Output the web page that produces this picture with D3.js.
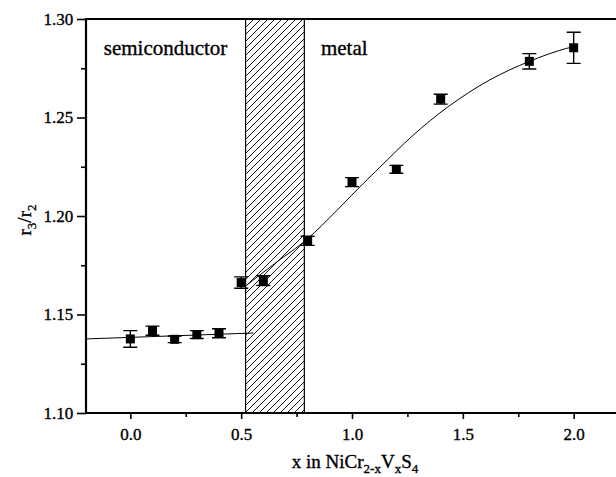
<!DOCTYPE html>
<html>
<head>
<meta charset="utf-8">
<script src="https://cdn.jsdelivr.net/npm/d3@7"></script>
<style>
  html, body { margin: 0; padding: 0; background: #fff; }
  svg { display: block; }
  svg text { stroke: #000; stroke-width: 0.35px; }
</style>
</head>
<body>
<div id="chart"></div>
<script>
// composition x in NiCr(2-x)VxS4 and measured r3/r2 with error bars
const comp  = [0.0, 0.1, 0.2, 0.3, 0.4, 0.5, 0.6, 0.8, 1.0, 1.2, 1.4, 1.8, 2.0];
const ratio = [1.1376, 1.1418, 1.1374, 1.1398, 1.1405, 1.1662, 1.1672, 1.1874, 1.2172, 1.2237, 1.2593, 1.2785, 1.2854];
const err   = [0.0042, 0.0023, 0.0017, 0.0020, 0.0023, 0.0029, 0.0025, 0.0023, 0.0023, 0.0020, 0.0025, 0.0039, 0.0079];

// fitted guide lines
const semiFit  = [[-0.2, 1.1376], [0.555, 1.1406]];
const metalFit = [[0.52, 1.1645], [0.66, 1.1766], [0.8, 1.1885], [1.05, 1.2164], [1.126, 1.2248],
                  [1.276, 1.2410], [1.434, 1.2555], [1.62, 1.2690], [1.80, 1.2785], [1.952, 1.2846], [2.0, 1.2859]];

// transition (hatched) region
const band = [0.52, 0.785];

const xMajor = [0.0, 0.5, 1.0, 1.5, 2.0];
const xMinor = [0.25, 0.75, 1.25, 1.75];
const yMajor = [1.10, 1.15, 1.20, 1.25, 1.30];
const yMinor = [1.125, 1.175, 1.225, 1.275];

const FONT = 'Liberation Serif';
const W = 616, H = 477;
const x = d3.scaleLinear().domain([-0.2, 2.2]).range([86, 618]);
const y = d3.scaleLinear().domain([1.10, 1.30]).range([413, 19]);

const svg = d3.select('#chart').append('svg').attr('width', W).attr('height', H);

const pat = svg.append('defs').append('pattern').attr('id', 'hatch').attr('patternUnits', 'userSpaceOnUse')
  .attr('width', 7).attr('height', 7);
pat.append('path').attr('d', 'M-1,8 L8,-1 M-1,1 L1,-1 M6,8 L8,6')
  .attr('stroke', '#000').attr('stroke-width', 0.9);

// hatched band
svg.append('rect')
  .attr('x', x(band[0])).attr('y', y(1.30))
  .attr('width', x(band[1]) - x(band[0])).attr('height', y(1.10) - y(1.30))
  .attr('fill', 'url(#hatch)').attr('stroke', '#000').attr('stroke-width', 1.2);

// fit lines
const line = d3.line().x(d => x(d[0])).y(d => y(d[1]));
svg.append('path').datum(semiFit).attr('d', line)
  .attr('fill', 'none').attr('stroke', '#000').attr('stroke-width', 1);
svg.append('path').datum(metalFit).attr('d', line.curve(d3.curveCatmullRom))
  .attr('fill', 'none').attr('stroke', '#000').attr('stroke-width', 1);

// error bars + squares
const pts = comp.map((c, i) => ({ c, v: ratio[i], e: err[i] }));
svg.append('g').attr('stroke', '#000').attr('stroke-width', 1.4)
  .selectAll('path').data(pts).enter().append('path')
  .attr('fill', 'none')
  .attr('d', d => {
    const cx = x(d.c), t = y(d.v + d.e), b = y(d.v - d.e);
    return `M${cx},${t}V${b}M${cx - 7},${t}H${cx + 7}M${cx - 7},${b}H${cx + 7}`;
  });
svg.selectAll('.pt').data(pts).enter().append('rect').attr('class', 'pt')
  .attr('x', d => x(d.c) - 4.5).attr('y', d => y(d.v) - 4.5)
  .attr('width', 9).attr('height', 9).attr('fill', '#000');

// frame
svg.append('path')
  .attr('d', `M${x(-0.2)},${y(1.10)}V${y(1.30)}H${x(2.2)}M${x(-0.2)},${y(1.10)}H${x(2.2)}`)
  .attr('fill', 'none').attr('stroke', '#000').attr('stroke-width', 2.2);

// x axis
const gx = svg.append('g').attr('transform', `translate(0,${y(1.10)})`)
  .call(d3.axisBottom(x).tickValues(xMajor).tickSize(6).tickFormat(d3.format('.1f')).tickSizeOuter(0));
svg.append('g').attr('transform', `translate(0,${y(1.10)})`)
  .call(d3.axisBottom(x).tickValues(xMinor).tickSize(4).tickFormat('').tickSizeOuter(0));

// y axis
const gy = svg.append('g').attr('transform', `translate(${x(-0.2)},0)`)
  .call(d3.axisLeft(y).tickValues(yMajor).tickSize(9).tickFormat(d3.format('.2f')).tickSizeOuter(0));
svg.append('g').attr('transform', `translate(${x(-0.2)},0)`)
  .call(d3.axisLeft(y).tickValues(yMinor).tickSize(5).tickFormat('').tickSizeOuter(0));

svg.selectAll('.domain').remove();
svg.selectAll('.tick line').attr('stroke', '#000').attr('stroke-width', 1.6);
gx.attr('font-family', FONT).attr('font-size', 17);
gy.attr('font-family', FONT).attr('font-size', 17);
gx.selectAll('text').attr('fill', '#000').attr('dy', '1.05em');
gy.selectAll('text').attr('fill', '#000').attr('dx', '-0.05em');

// region labels
svg.append('text').attr('x', x(-0.12)).attr('y', 55).attr('font-family', FONT).attr('font-size', 21).text('semiconductor');
svg.append('text').attr('x', x(0.86)).attr('y', 55).attr('font-family', FONT).attr('font-size', 21).text('metal');

// axis titles
const xt = svg.append('text').attr('x', 355).attr('y', 468).attr('text-anchor', 'middle')
  .attr('font-family', FONT).attr('font-size', 19);
xt.append('tspan').text('x in NiCr');
xt.append('tspan').attr('font-size', 13).attr('dy', 5).text('2-x');
xt.append('tspan').attr('dy', -5).text('V');
xt.append('tspan').attr('font-size', 13).attr('dy', 5).text('x');
xt.append('tspan').attr('dy', -5).text('S');
xt.append('tspan').attr('font-size', 13).attr('dy', 5).text('4');

const yt = svg.append('text').attr('transform', 'translate(31,220) rotate(-90)')
  .attr('text-anchor', 'middle').attr('font-family', FONT).attr('font-size', 19);
yt.append('tspan').text('r');
yt.append('tspan').attr('font-size', 13).attr('dy', 5).text('3');
yt.append('tspan').attr('dy', -5).text('/r');
yt.append('tspan').attr('font-size', 13).attr('dy', 5).text('2');
</script>
</body>
</html>
